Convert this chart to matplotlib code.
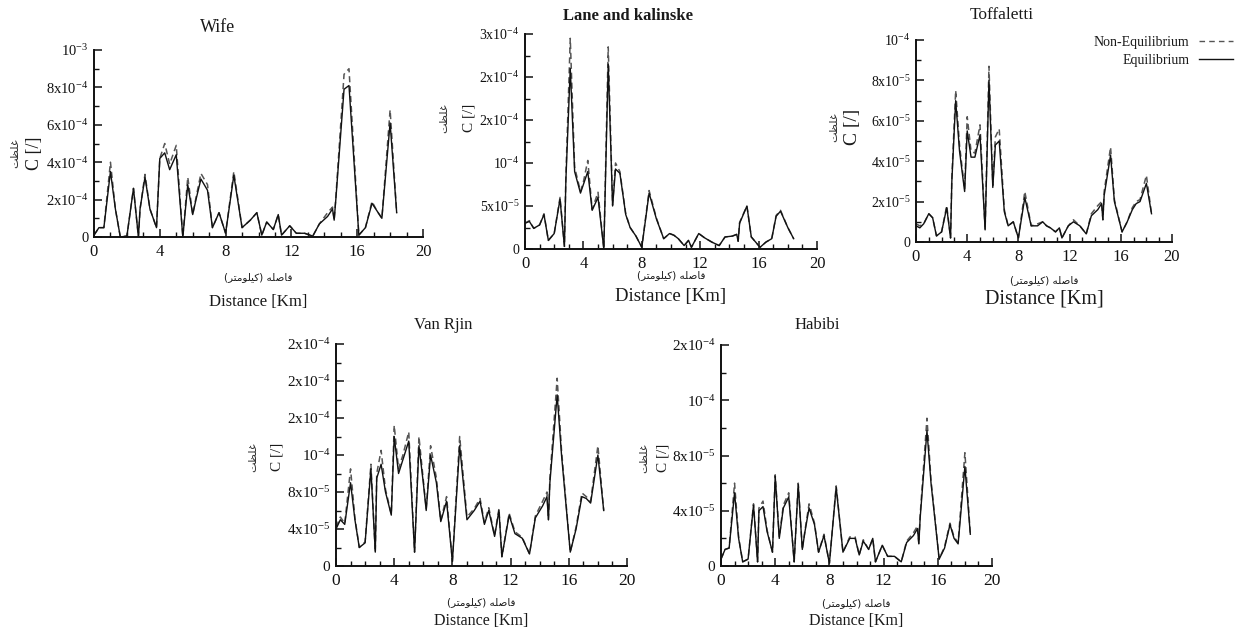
import matplotlib
matplotlib.use("Agg")
import matplotlib.pyplot as plt
from matplotlib.lines import Line2D
from matplotlib.ticker import FixedLocator, MultipleLocator

plt.rcParams.update({
    "font.family": ["Liberation Serif", "DejaVu Serif"],
    "mathtext.fontset": "custom",
    "mathtext.rm": "Liberation Serif",
    "mathtext.default": "regular",
    "text.color": "#1a1a1a",
})

W, H = 1236, 631

# distance along the river [km], shared by all panels
distance = [0.0, 0.3, 0.6, 1.0, 1.3, 1.6, 2.0, 2.4, 2.7, 2.8, 3.1, 3.4, 3.8, 4.0,
            4.3, 4.6, 5.0, 5.4, 5.7, 6.0, 6.2, 6.5, 6.9, 7.2, 7.6, 8.0, 8.5, 9.0,
            9.5, 9.9, 10.2, 10.5, 10.9, 11.2, 11.4, 11.9, 12.3, 12.8, 13.3, 13.7,
            14.2, 14.5, 14.6, 14.7, 15.2, 15.5, 16.1, 16.5, 16.9, 17.2, 17.5,
            18.0, 18.4]

# Wife, x1e-4
wife_eq = [0.1, 0.5, 0.5, 3.5, 1.5, 0.0, 0.05, 2.6, 0.0, 1.5, 3.2, 1.5, 0.5, 4.2,
           4.5, 3.6, 4.4, 0.0, 2.8, 1.2, 2.0, 3.1, 2.5, 0.5, 1.3, 0.2, 3.3, 0.5,
           0.9, 1.3, 0.1, 0.8, 0.4, 1.2, 0.1, 0.6, 0.2, 0.2, 0.05, 0.7,
           1.1, 1.5, 0.9, 2.0, 7.9, 8.1, 0.1, 0.5, 1.8, 1.4, 1.0, 6.1, 1.3]
wife_neq = [0.1, 0.5, 0.5, 4.0, 1.5, 0.0, 0.05, 2.6, 0.0, 1.5, 3.35, 1.5, 0.5, 4.2,
            5.0, 3.9, 4.9, 0.0, 3.2, 1.2, 2.1, 3.4, 2.8, 0.5, 1.3, 0.2, 3.5, 0.5,
            0.9, 1.3, 0.1, 0.8, 0.4, 1.2, 0.1, 0.6, 0.2, 0.2, 0.05, 0.7,
            1.3, 1.6, 0.9, 2.1, 8.7, 9.0, 0.1, 0.5, 1.9, 1.4, 1.0, 6.8, 1.3]

# Lane and kalinske, x1e-5
lane_eq = [3.0, 3.2, 2.4, 2.8, 4.0, 1.0, 1.8, 5.8, 0.3, 8.0, 21.0, 9.0, 6.5, 7.5,
           9.0, 4.5, 6.0, 0.0, 21.5, 5.0, 9.3, 8.8, 4.0, 2.5, 1.5, 0.2, 6.5, 3.5,
           1.2, 1.8, 1.6, 1.2, 0.4, 1.0, 0.2, 1.8, 1.3, 0.8, 0.4, 1.4,
           1.5, 1.7, 0.9, 3.0, 5.0, 1.4, 0.2, 0.8, 1.2, 3.8, 4.4, 2.5, 1.2]
lane_neq = [3.0, 3.3, 2.4, 2.8, 4.1, 1.0, 1.8, 6.0, 0.3, 8.5, 24.5, 9.5, 6.7, 7.8,
            10.3, 4.6, 6.6, 0.0, 23.5, 5.1, 10.0, 9.0, 4.1, 2.5, 1.5, 0.2, 6.8, 3.6,
            1.2, 1.8, 1.6, 1.2, 0.4, 1.0, 0.2, 1.8, 1.3, 0.8, 0.4, 1.4,
            1.5, 1.7, 0.9, 3.1, 5.0, 1.4, 0.2, 0.8, 1.2, 3.9, 4.5, 2.5, 1.2]

# Toffaletti, x1e-5
toff_eq = [0.8, 0.7, 0.9, 1.4, 1.2, 0.3, 0.5, 1.7, 0.2, 3.0, 7.0, 4.5, 2.5, 5.5,
           4.2, 4.2, 5.3, 0.6, 8.0, 2.7, 4.8, 5.0, 1.5, 0.8, 1.0, 0.2, 2.2, 0.8,
           0.8, 1.0, 0.8, 0.7, 0.5, 0.7, 0.2, 0.8, 1.0, 0.8, 0.4, 1.3,
           1.6, 1.9, 1.1, 2.3, 4.3, 2.0, 0.5, 1.0, 1.6, 1.9, 2.0, 2.9, 1.4]
toff_neq = [0.9, 0.8, 0.9, 1.4, 1.2, 0.3, 0.5, 1.8, 0.2, 3.2, 7.5, 4.8, 2.6, 6.2,
            4.5, 4.4, 5.8, 0.6, 8.7, 2.8, 5.2, 5.6, 1.6, 0.8, 1.0, 0.2, 2.5, 0.8,
            0.9, 1.0, 0.8, 0.7, 0.5, 0.7, 0.2, 0.8, 1.1, 0.8, 0.4, 1.4,
            1.8, 2.0, 1.1, 2.5, 4.7, 2.1, 0.5, 1.0, 1.7, 2.0, 2.1, 3.3, 1.4]

# Van Rjin, x1e-5
vanr_eq = [4.0, 5.0, 4.5, 9.0, 5.0, 2.0, 2.5, 10.5, 1.5, 9.5, 11.0, 8.0, 5.5, 14.0,
           10.0, 11.5, 13.5, 1.5, 13.0, 9.0, 6.0, 12.0, 9.0, 4.8, 7.0, 0.5, 13.0, 5.0,
           6.0, 7.0, 4.5, 6.0, 3.2, 6.0, 1.0, 5.5, 3.5, 3.0, 1.3, 5.2,
           6.5, 7.5, 5.0, 9.0, 18.5, 12.0, 1.5, 4.0, 7.5, 7.3, 6.8, 12.0, 6.0]
vanr_neq = [4.2, 5.3, 4.6, 10.5, 5.2, 2.0, 2.6, 11.0, 1.5, 10.0, 12.5, 8.3, 5.6, 15.2,
            10.5, 12.0, 14.5, 1.5, 14.0, 9.3, 6.2, 13.0, 9.5, 4.9, 7.5, 0.5, 14.0, 5.3,
            6.2, 7.3, 4.7, 6.3, 3.3, 6.2, 1.0, 5.7, 3.7, 3.1, 1.3, 5.4,
            7.0, 8.0, 5.0, 9.5, 20.3, 12.5, 1.5, 4.2, 7.9, 7.5, 7.0, 13.0, 6.0]

# Habibi, x1e-5
habi_eq = [0.5, 1.2, 1.3, 5.3, 2.0, 0.3, 0.5, 4.4, 0.3, 4.0, 4.3, 2.5, 1.0, 6.5,
           2.0, 4.2, 5.0, 0.3, 5.9, 1.2, 2.5, 4.2, 3.0, 1.0, 2.2, 0.2, 5.7, 1.0,
           2.0, 2.0, 0.8, 1.8, 1.2, 2.0, 0.3, 1.5, 0.7, 0.7, 0.3, 1.7,
           2.2, 2.7, 1.6, 3.5, 9.8, 6.0, 0.5, 1.3, 3.0, 2.0, 1.6, 7.2, 2.3]
habi_neq = [0.5, 1.2, 1.3, 6.0, 2.1, 0.3, 0.5, 4.5, 0.3, 4.2, 4.7, 2.6, 1.0, 6.6,
            2.1, 4.4, 5.3, 0.3, 6.0, 1.2, 2.6, 4.5, 3.1, 1.0, 2.3, 0.2, 5.8, 1.0,
            2.1, 2.1, 0.8, 1.9, 1.2, 2.0, 0.3, 1.5, 0.7, 0.7, 0.3, 1.8,
            2.4, 2.9, 1.6, 3.7, 10.7, 6.2, 0.5, 1.4, 3.1, 2.1, 1.7, 8.2, 2.3]

x_ticks = [0, 4, 8, 12, 16, 20]

panels = [
    dict(title="Wife", eq=wife_eq, neq=wife_neq, scale=1e-4,
         yticks=[0, 2e-4, 4e-4, 6e-4, 8e-4, 1e-3],
         ylabels=["0", "2x10^{-4}", "4x10^{-4}", "6x10^{-4}", "8x10^{-4}", "10^{-3}"]),
    dict(title="Lane and kalinske", eq=lane_eq, neq=lane_neq, scale=1e-5,
         yticks=[0, 5e-5, 1e-4, 1.5e-4, 2e-4, 2.5e-4],
         ylabels=["0", "5x10^{-5}", "10^{-4}", "2x10^{-4}", "2x10^{-4}", "3x10^{-4}"]),
    dict(title="Toffaletti", eq=toff_eq, neq=toff_neq, scale=1e-5,
         yticks=[0, 2e-5, 4e-5, 6e-5, 8e-5, 1e-4],
         ylabels=["0", "2x10^{-5}", "4x10^{-5}", "6x10^{-5}", "8x10^{-5}", "10^{-4}"]),
    dict(title="Van Rjin", eq=vanr_eq, neq=vanr_neq, scale=1e-5,
         yticks=[0, 4e-5, 8e-5, 1.2e-4, 1.6e-4, 2e-4, 2.4e-4],
         ylabels=["0", "4x10^{-5}", "8x10^{-5}", "10^{-4}", "2x10^{-4}", "2x10^{-4}", "2x10^{-4}"]),
    dict(title="Habibi", eq=habi_eq, neq=habi_neq, scale=1e-5,
         yticks=[0, 4e-5, 8e-5, 1.2e-4, 1.6e-4],
         ylabels=["0", "4x10^{-5}", "8x10^{-5}", "10^{-4}", "2x10^{-4}"]),
]

# pixel layout: axes box (x0, x1, ytop, ybottom), title xy, ylabel offsets, font sizes
layout = [
    dict(box=(94, 423, 50, 237), title_xy=(218, 27), tsize=13, tweight="normal",
         yl_frac=0.45, c_dx=-59, fa_dx=-79, csize=13, xl_y=(277, 302), dsize=12,
         xtick=12, ytick=10.5),
    dict(box=(525, 817, 34, 249), title_xy=(628, 16), tsize=12, tweight="bold",
         yl_frac=0.61, c_dx=-56, fa_dx=-81, csize=11, xl_y=(275, 297), dsize=13.5,
         xtick=12, ytick=10),
    dict(box=(916, 1172, 40, 242), title_xy=(1002, 15), tsize=12.5, tweight="normal",
         yl_frac=0.57, c_dx=-64, fa_dx=-82, csize=14, xl_y=(280, 299), dsize=14.5,
         xtick=12, ytick=10),
    dict(box=(336, 627, 344, 566), title_xy=(443, 325), tsize=12, tweight="normal",
         yl_frac=0.49, c_dx=-59, fa_dx=-83, csize=11, xl_y=(602, 621), dsize=11.5,
         xtick=12.5, ytick=11),
    dict(box=(721, 992, 345, 566), title_xy=(817, 325), tsize=12, tweight="normal",
         yl_frac=0.49, c_dx=-58, fa_dx=-77, csize=11, xl_y=(603, 621), dsize=11.5,
         xtick=12.5, ytick=11),
]

# contextual forms (isolated, final, initial, medial) for the Persian labels
FORMS = {
    "\u063A": ("\uFECD", "\uFECE", "\uFECF", "\uFED0"),
    "\u0644": ("\uFEDD", "\uFEDE", "\uFEDF", "\uFEE0"),
    "\u0638": ("\uFEC5", "\uFEC6", "\uFEC7", "\uFEC8"),
    "\u062A": ("\uFE95", "\uFE96", "\uFE97", "\uFE98"),
    "\u0641": ("\uFED1", "\uFED2", "\uFED3", "\uFED4"),
    "\u0627": ("\uFE8D", "\uFE8E", None, None),
    "\u0635": ("\uFEB9", "\uFEBA", "\uFEBB", "\uFEBC"),
    "\u0647": ("\uFEE9", "\uFEEA", "\uFEEB", "\uFEEC"),
    "\u06A9": ("\uFB8E", "\uFB8F", "\uFB90", "\uFB91"),
    "\u06CC": ("\uFBFC", "\uFBFD", "\uFBFE", "\uFBFF"),
    "\u0648": ("\uFEED", "\uFEEE", None, None),
    "\u0645": ("\uFEE1", "\uFEE2", "\uFEE3", "\uFEE4"),
    "\u0631": ("\uFEAD", "\uFEAE", None, None),
}


def rtl(text):
    out = []
    for i, ch in enumerate(text):
        if ch not in FORMS:
            out.append(ch)
            continue
        prev = text[i - 1] if i > 0 else ""
        nxt = text[i + 1] if i + 1 < len(text) else ""
        f = FORMS[ch]
        jp = prev in FORMS and FORMS[prev][2] is not None
        jn = f[2] is not None and nxt in FORMS
        out.append(f[3] if jp and jn else f[1] if jp else f[2] if jn else f[0])
    mirror = {"(": ")", ")": "("}
    return "".join(mirror.get(c, c) for c in reversed(out))


fa_conc = rtl("غلظت")
fa_dist = rtl("فاصله (کیلومتر)")
fa_font = ["DejaVu Sans"]

fig = plt.figure(figsize=(W / 100, H / 100), dpi=100)


def fx(px):
    return px / W


def fy(py):
    return 1 - py / H


for p, lay in zip(panels, layout):
    x0, x1, yt, yb = lay["box"]
    ax = fig.add_axes([fx(x0), fy(yb), (x1 - x0) / W, (yb - yt) / H])
    eq = [v * p["scale"] for v in p["eq"]]
    neq = [v * p["scale"] for v in p["neq"]]
    ax.plot(distance, neq, color="#555555", lw=1.1, ls=(0, (4, 2.5)), zorder=2)
    ax.plot(distance, eq, color="#111111", lw=1.0, zorder=3)
    ax.set_xlim(0, 20)
    ax.set_ylim(0, p["yticks"][-1])
    ax.xaxis.set_major_locator(FixedLocator(x_ticks))
    ax.xaxis.set_minor_locator(MultipleLocator(1))
    ax.set_xticklabels([str(t) for t in x_ticks])
    ax.yaxis.set_major_locator(FixedLocator(p["yticks"]))
    step = p["yticks"][1] / 2
    ax.yaxis.set_minor_locator(MultipleLocator(step))
    ax.set_yticklabels(["$" + s + "$" if s != "0" else "0" for s in p["ylabels"]])
    for side in ("top", "right"):
        ax.spines[side].set_visible(False)
    for side in ("left", "bottom"):
        ax.spines[side].set_linewidth(1.4)
        ax.spines[side].set_color("#111111")
    ax.tick_params(which="major", direction="in", length=6, width=1.1,
                   pad=4, colors="#111111")
    ax.tick_params(axis="x", which="major", labelsize=lay["xtick"], pad=5)
    ax.tick_params(axis="y", which="major", labelsize=lay["ytick"], pad=4)
    ax.tick_params(which="minor", direction="in", length=3.5, width=1.0,
                   colors="#111111")
    ax.patch.set_alpha(0)

    cx = (x0 + x1) / 2
    fig.text(fx(lay["title_xy"][0]), fy(lay["title_xy"][1]), p["title"],
             ha="center", va="center", fontsize=lay["tsize"], fontweight=lay["tweight"])
    fig.text(fx(cx), fy(lay["xl_y"][0]), fa_dist, family=fa_font,
             ha="center", va="center", fontsize=7.5)
    fig.text(fx(cx), fy(lay["xl_y"][1]), "Distance [Km]",
             ha="center", va="center", fontsize=lay["dsize"])
    ymid = yb - lay["yl_frac"] * (yb - yt)
    fig.text(fx(x0 + lay["c_dx"]), fy(ymid), "C [/]", rotation=90,
             ha="center", va="center", fontsize=lay["csize"])
    fig.text(fx(x0 + lay["fa_dx"]), fy(ymid), fa_conc, rotation=90, family=fa_font,
             ha="center", va="center", fontsize=8, color="#333333")

    if p["title"] == "Toffaletti":
        handles = [Line2D([], [], color="#555555", lw=1.0, ls=(0, (4, 3))),
                   Line2D([], [], color="#111111", lw=1.0)]
        fig.legend(handles, ["Non-Equilibrium", "Equilibrium"], loc="upper left",
                   bbox_to_anchor=(fx(1094), fy(36)), frameon=False, markerfirst=False,
                   fontsize=10, handlelength=2.4, handletextpad=0.7,
                   labelspacing=0.35, borderpad=0, borderaxespad=0)

fig.savefig("out.png", dpi=100)
